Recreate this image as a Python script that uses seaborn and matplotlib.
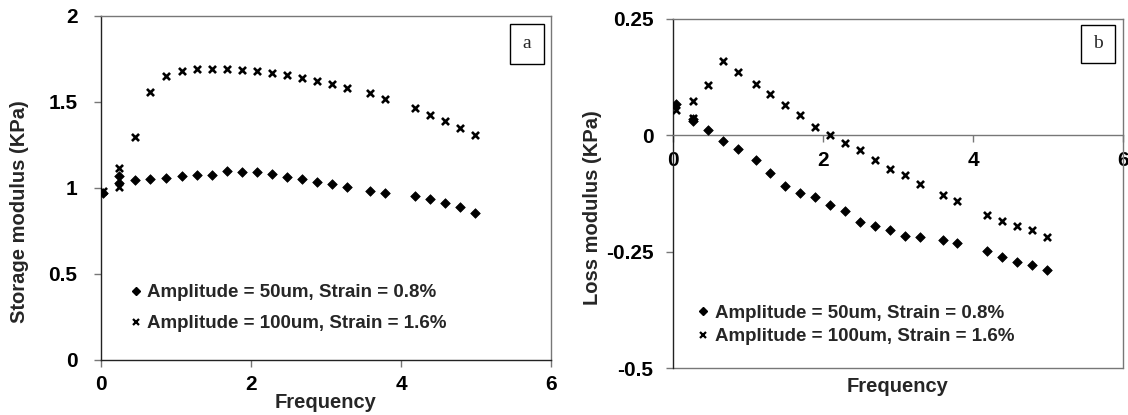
import numpy as np
import pandas as pd
import matplotlib
matplotlib.use("Agg")
import matplotlib.pyplot as plt
import seaborn as sns
from matplotlib.lines import Line2D
from matplotlib.patches import Rectangle

# ---------------- data ----------------
freq_storage = [0.03, 0.24, 0.24, 0.45, 0.65, 0.86, 1.08, 1.28, 1.48, 1.68, 1.88, 2.08, 2.28,
                2.48, 2.68, 2.88, 3.08, 3.28, 3.59, 3.79, 4.19, 4.39, 4.59, 4.79, 4.99]
storage_50 = [0.97, 1.07, 1.03, 1.045, 1.049, 1.056, 1.07, 1.074, 1.074, 1.097, 1.093, 1.089, 1.080,
              1.064, 1.051, 1.035, 1.021, 1.002, 0.981, 0.971, 0.954, 0.936, 0.913, 0.889, 0.854]
storage_100 = [0.98, 1.115, 1.005, 1.293, 1.558, 1.651, 1.680, 1.690, 1.690, 1.690, 1.684, 1.680, 1.665,
               1.657, 1.636, 1.622, 1.605, 1.578, 1.549, 1.516, 1.461, 1.423, 1.39, 1.346, 1.307]

freq_loss = [0.04, 0.26, 0.26, 0.46, 0.67, 0.87, 1.10, 1.29, 1.49, 1.69, 1.89, 2.09, 2.29,
             2.49, 2.69, 2.89, 3.09, 3.29, 3.60, 3.79, 4.18, 4.39, 4.59, 4.79, 4.99]
loss_50 = [0.067, 0.035, 0.030, 0.011, -0.012, -0.030, -0.053, -0.080, -0.108, -0.123, -0.133, -0.150, -0.163,
           -0.186, -0.194, -0.204, -0.215, -0.219, -0.225, -0.230, -0.248, -0.261, -0.272, -0.278, -0.289]
loss_100 = [0.054, 0.073, 0.037, 0.109, 0.159, 0.136, 0.111, 0.088, 0.065, 0.043, 0.018, 0.0, -0.016,
            -0.032, -0.052, -0.071, -0.085, -0.105, -0.127, -0.141, -0.171, -0.183, -0.194, -0.204, -0.219]

series_labels = ["Amplitude = 50um, Strain = 0.8%", "Amplitude = 100um, Strain = 1.6%"]
xticks = [0, 2, 4, 6]
xtick_labels = ["0", "2", "4", "6"]
yticks_a = [0, 0.5, 1, 1.5, 2]
ytick_labels_a = ["0", "0.5", "1", "1.5", "2"]
yticks_b = [-0.5, -0.25, 0, 0.25]
ytick_labels_b = ["-0.5", "-0.25", "0", "0.25"]

# ---------------- style ----------------
sns.set_theme(style="white")
plt.rcParams["font.family"] = ["Liberation Sans", "DejaVu Sans"]
plt.rcParams["font.weight"] = "bold"

W, H = 1128, 415
fig = plt.figure(figsize=(W / 100, H / 100), dpi=100)

def px_axes(l, t, r, b):
    return fig.add_axes([l / W, 1 - b / H, (r - l) / W, (b - t) / H])

ax1 = px_axes(101, 15.7, 551, 359.7)
ax2 = px_axes(673, 19, 1123, 368.3)

dark = "#222222"
grey = "#777777"
TFS = 15
LFS = 14.5

def draw(ax, freq, s50, s100):
    df50 = pd.DataFrame({"f": freq, "v": s50})
    df100 = pd.DataFrame({"f": freq, "v": s100})
    sns.scatterplot(data=df50, x="f", y="v", marker="D", s=24, color="black",
                    edgecolor="black", linewidth=0.5, ax=ax, legend=False, zorder=3)
    sns.scatterplot(data=df100, x="f", y="v", marker="x", s=26, color="black",
                    linewidth=1.9, ax=ax, legend=False, zorder=3)
    for sp in ax.spines.values():
        sp.set_color(grey)
        sp.set_linewidth(1.0)
    ax.spines["left"].set_color(dark)

def ticks(ax, yt, ytl, ypad, xpad):
    ax.set_xlim(0, 6)
    ax.set_xticks(xticks)
    ax.set_xticklabels(xtick_labels, fontsize=TFS, fontweight="bold")
    ax.set_yticks(yt)
    ax.set_yticklabels(ytl, fontsize=TFS, fontweight="bold")
    ax.tick_params(axis="both", direction="out", length=5, width=1, colors=grey,
                   labelcolor="black", bottom=True, left=True)
    ax.tick_params(axis="y", pad=ypad)
    ax.tick_params(axis="x", pad=xpad)

# panel a
draw(ax1, freq_storage, storage_50, storage_100)
ax1.set_ylim(0, 2)
ax1.spines["bottom"].set_color(dark)
ticks(ax1, yticks_a, ytick_labels_a, 12, 6)
ax1.set_xlabel("Frequency", fontsize=LFS, fontweight="bold")
ax1.xaxis.set_label_coords(0.5, -0.098)
ax1.set_ylabel("Storage modulus (KPa)", fontsize=LFS, fontweight="bold")
ax1.yaxis.set_label_coords(-0.16, 0.43)

# panel b
draw(ax2, freq_loss, loss_50, loss_100)
ax2.set_ylim(-0.5, 0.25)
ax2.spines["bottom"].set_position(("data", 0))
ax2.axhline(-0.5, color=grey, lw=1.0, clip_on=False, zorder=2)
ticks(ax2, yticks_b, ytick_labels_b, 9, 6)
ax2.set_xlabel("Frequency", fontsize=LFS, fontweight="bold")
ax2.xaxis.set_label_coords(0.5, -0.024)
ax2.set_ylabel("Loss modulus (KPa)", fontsize=LFS, fontweight="bold")
ax2.yaxis.set_label_coords(-0.158, 0.46)

# legends
handles = [Line2D([], [], marker="D", ls="", color="black", markersize=4.5),
           Line2D([], [], marker="x", ls="", color="black", markersize=5, markeredgewidth=1.6)]
for ax, anchor, spacing in [(ax1, (0.065, 0.22), 0.75), (ax2, (0.055, 0.183), 0.35)]:
    ax.legend(handles, series_labels, loc="upper left", bbox_to_anchor=anchor,
              frameon=False, handlelength=0.6, handletextpad=0.3, borderpad=0,
              borderaxespad=0, labelspacing=spacing,
              prop={"family": "Liberation Sans", "weight": "bold", "size": 13.5})

# panel tags
for ax, (x0, x1, y0, y1), tag in [(ax1, (0.909, 0.984, 0.860, 0.976), "a"),
                                  (ax2, (0.907, 0.982, 0.874, 0.983), "b")]:
    ax.add_patch(Rectangle((x0, y0), x1 - x0, y1 - y0, transform=ax.transAxes,
                           fill=True, facecolor="white", edgecolor="black", lw=1.0, zorder=4))
    ax.text((x0 + x1) / 2, (y0 + y1) / 2, tag, transform=ax.transAxes, ha="center", va="center",
            fontsize=14, fontfamily="Liberation Serif", fontweight="normal", zorder=5)

fig.savefig("out.png", dpi=100)
